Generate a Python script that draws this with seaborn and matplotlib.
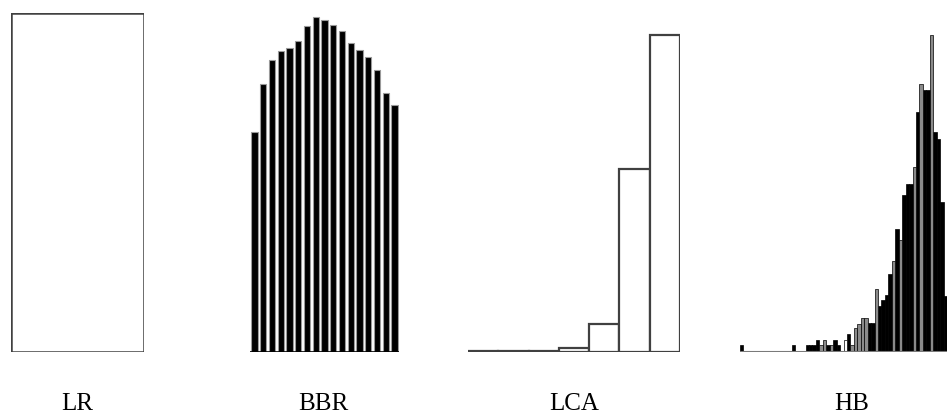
import numpy as np
import pandas as pd
import matplotlib
matplotlib.use("Agg")
import matplotlib.pyplot as plt
import seaborn as sns

sns.set_theme(style="white")
plt.rcParams['font.family'] = ['Liberation Serif', 'DejaVu Serif']

# ---- data (heights, arbitrary units) ----
panel_labels = ["LR", "BBR", "LCA", "HB"]

lr_heights = [339]

bbr_heights = [220, 268, 292, 301, 304, 311, 326, 335, 332, 327,
               321, 309, 302, 295, 282, 259, 247]

lca_heights = [1, 1, 1, 4, 28, 183, 317]

hb_heights = [7, 0, 0, 0, 0, 0, 0, 0, 0, 0,
              0, 0, 0, 0, 0, 7, 0, 0, 0, 7,
              7, 7, 12, 7, 12, 7, 7, 12, 7, 0,
              12, 18, 7, 24, 28, 34, 34, 29, 29, 63,
              46, 52, 57, 78, 91, 123, 112, 157, 168, 168,
              185, 240, 268, 262, 262, 317, 220, 213, 150, 56]
hb_shades = ["k", "k", "k", "k", "k", "k", "k", "k", "k", "k",
             "k", "k", "k", "k", "k", "k", "k", "k", "k", "k",
             "k", "k", "k", "g", "g", "k", "g", "k", "k", "k",
             "w", "k", "g", "g", "g", "g", "g", "k", "k", "g",
             "k", "k", "k", "k", "g", "k", "g", "k", "k", "k",
             "g", "k", "g", "k", "k", "g", "k", "k", "k", "k"]

W, H = 947, 416
fig = plt.figure(figsize=(W / 100, H / 100), dpi=100)
fig.patch.set_facecolor("white")

BASE = 352   # baseline pixel row
TOP = 13     # top pixel row for ylim max
YMAX = BASE - TOP


def make_ax(x0, x1):
    ax = fig.add_axes([x0 / W, (H - BASE) / H, (x1 - x0) / W, YMAX / H])
    ax.set_ylim(0, YMAX)
    ax.set_axis_off()
    return ax


# LR
ax = make_ax(11, 144)
df = pd.DataFrame({"bin": range(len(lr_heights)), "h": lr_heights})
sns.barplot(data=df, x="bin", y="h", ax=ax, color="white", width=1.0,
            edgecolor="#404040", linewidth=1.8, errorbar=None, saturation=1)
ax.set_xlim(-0.5, len(lr_heights) - 0.5)
ax.set_ylim(0, YMAX)
ax.set_axis_off()

# BBR
ax = make_ax(250, 399)
df = pd.DataFrame({"bin": range(len(bbr_heights)), "h": bbr_heights})
sns.barplot(data=df, x="bin", y="h", ax=ax, color="black", width=0.72,
            edgecolor="#9a9a9a", linewidth=0.8, errorbar=None, saturation=1)
ax.set_xlim(-0.5, len(bbr_heights) - 0.5)
ax.set_ylim(0, YMAX)
ax.axhline(0, color="black", lw=1.2)
ax.set_axis_off()

# LCA
ax = make_ax(468, 680)
df = pd.DataFrame({"bin": range(len(lca_heights)), "h": lca_heights})
sns.barplot(data=df, x="bin", y="h", ax=ax, color="white", width=1.0,
            edgecolor="#404040", linewidth=1.6, errorbar=None, saturation=1)
ax.set_xlim(-0.5, len(lca_heights) - 0.5)
ax.set_ylim(0, YMAX)
ax.set_axis_off()

# HB
ax = make_ax(740, 947)
df = pd.DataFrame({"bin": range(len(hb_heights)), "h": hb_heights,
                   "shade": hb_shades})
sns.barplot(data=df, x="bin", y="h", hue="shade", ax=ax, dodge=False,
            palette={"k": "black", "g": "#8a8a8a", "w": "white"},
            width=1.0, edgecolor="black", linewidth=0.5, errorbar=None,
            saturation=1, legend=False)
ax.set_xlim(-0.5, len(hb_heights) - 0.5)
ax.set_ylim(0, YMAX)
ax.axhline(0, color="#7a7a7a", lw=1.5)
ax.set_axis_off()

# labels
label_x = [77, 323, 574, 852]
for lab, lx in zip(panel_labels, label_x):
    fig.text(lx / W, 1 - 404 / H, lab, ha="center", va="center",
             fontsize=18, color="black")

fig.savefig("out.png", dpi=100, facecolor="white")
